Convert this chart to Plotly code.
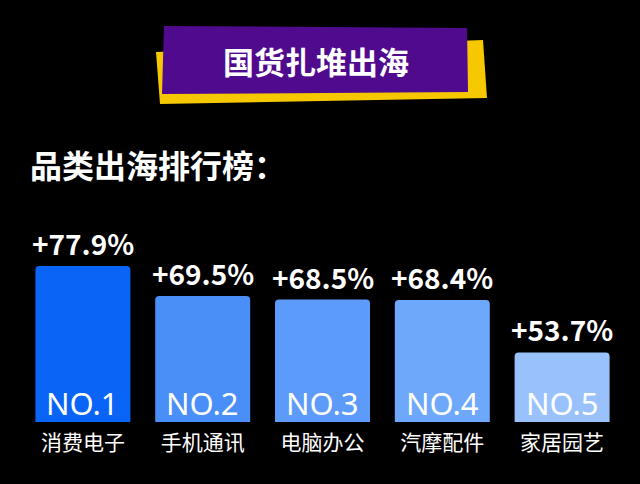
import plotly.graph_objects as go

categories = ["消费电子", "手机通讯", "电脑办公", "汽摩配件", "家居园艺"]
growth_pct = [77.9, 69.5, 68.5, 68.4, 53.7]
rank_labels = ["NO.1", "NO.2", "NO.3", "NO.4", "NO.5"]
bar_colors = ["#0A64F6", "#4A8EF8", "#5C9BF9", "#6DA8FA", "#99C2FC"]
title_text = "国货扎堆出海"
subtitle_text = "品类出海排行榜："

CJK = "Noto Sans CJK SC"
y_min, y_max = 34.2, 96.4

W, H = 640, 484
ml, mr, mt, mb = 23, 18, 200, 62
pw, ph = W - ml - mr, H - mt - mb


def px_x(x):
    return (x - ml) / pw


def px_y(y):
    return (H - mb - y) / ph


def path(points):
    return "M " + " L ".join(f"{px_x(x)},{px_y(y)}" for x, y in points) + " Z"


fig = go.Figure()
fig.add_trace(go.Bar(
    x=list(range(len(categories))),
    y=growth_pct,
    marker=dict(color=bar_colors, line=dict(width=0), cornerradius=4),
    hoverinfo="skip",
))

annotations = []
for i, (v, r) in enumerate(zip(growth_pct, rank_labels)):
    annotations.append(dict(
        x=i, y=v, xref="x", yref="y", text=f"+{v}%", showarrow=False,
        yanchor="middle", yshift=23,
        font=dict(family=CJK, size=28, color="white", weight="bold"),
    ))
    annotations.append(dict(
        x=i, y=y_min, xref="x", yref="y", text=r, showarrow=False,
        yanchor="middle", yshift=19,
        font=dict(family="Noto Sans", size=31, color="white"),
    ))

annotations.append(dict(
    x=px_x(316), y=px_y(60), xref="paper", yref="paper", text=title_text,
    showarrow=False, xanchor="center", yanchor="middle",
    font=dict(family=CJK, size=31, color="white", weight="bold"),
))
annotations.append(dict(
    x=px_x(28), y=px_y(164), xref="paper", yref="paper", text=subtitle_text,
    showarrow=False, xanchor="left", yanchor="middle",
    font=dict(family=CJK, size=32, color="white", weight="bold"),
))

shapes = [
    dict(type="path", xref="paper", yref="paper", layer="below",
         path=path([(156, 52), (483, 40), (487, 98), (160, 104)]),
         fillcolor="#F5C800", line=dict(width=0)),
    dict(type="path", xref="paper", yref="paper", layer="below",
         path=path([(164, 26), (467, 28), (468, 92), (162, 94)]),
         fillcolor="#500A8E", line=dict(width=0)),
]

fig.update_layout(
    width=W, height=H,
    paper_bgcolor="black", plot_bgcolor="black",
    margin=dict(l=ml, r=mr, t=mt, b=mb),
    bargap=0.207,
    showlegend=False,
    xaxis=dict(
        range=[-0.5, len(categories) - 0.5],
        tickvals=list(range(len(categories))), ticktext=categories,
        tickfont=dict(family=CJK, size=21, color="white"),
        showgrid=False, zeroline=False, showline=False, ticks="",
        ticklabelstandoff=6, fixedrange=True,
    ),
    yaxis=dict(range=[y_min, y_max], visible=False, fixedrange=True),
    annotations=annotations,
    shapes=shapes,
)

fig.write_html(
    "out.html",
    config={"displayModeBar": False},
    post_script="document.body.style.margin='0';document.body.style.background='black';",
)
